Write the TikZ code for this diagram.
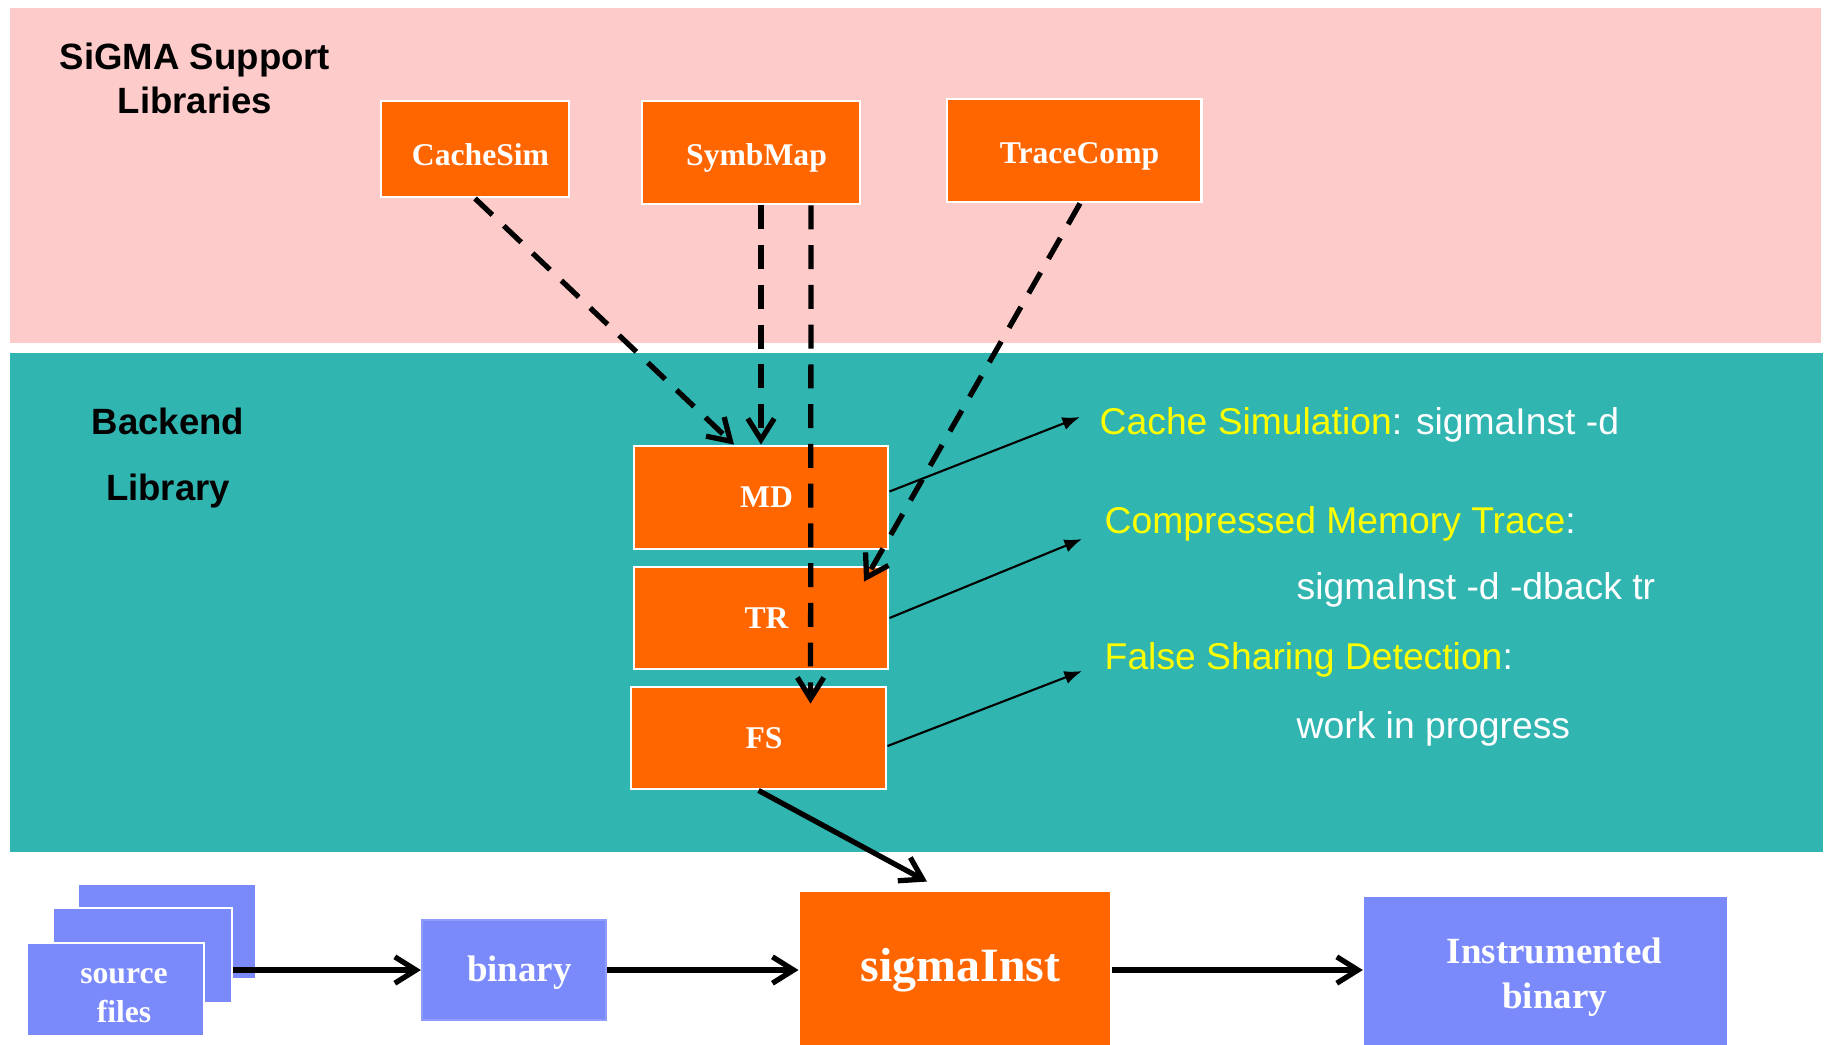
\documentclass[tikz,border=0pt]{standalone}
\usepackage{fontspec}
\setmainfont{Liberation Serif}
\setsansfont{Liberation Sans}
\usetikzlibrary{arrows.meta}
\newcommand{\boxtext}[1]{\hspace*{0.11cm}\rule{0pt}{9.4pt}#1}
\begin{document}
\begin{tikzpicture}[x=0.01cm, y=-0.01cm, >={Straight Barb[length=6pt,width=7.5pt]},
    obox/.style={draw=white, line width=0.8pt, fill=sorange, text=white, inner sep=0pt,
      font=\bfseries\fontsize{9}{11}\selectfont, align=center},
    bbox/.style={draw=white, line width=0.6pt, fill=sblue, text=white, inner sep=0pt,
      font=\bfseries\fontsize{10.5}{13}\selectfont, align=center},
    heading/.style={font=\sffamily\bfseries\fontsize{10.4}{12.5}\selectfont, align=center},
    note/.style={font=\sffamily\fontsize{10.6}{12}\selectfont, text=white, anchor=west, inner sep=0pt},
    dasharr/.style={->, line width=1.5pt, dash pattern=on 6.8pt off 4.5pt},
    thinarr/.style={-{Latex[length=5pt,width=3.8pt]}, line width=0.6pt},
    thickarr/.style={->, line width=1.5pt}]
  \definecolor{spink}{HTML}{FECBCB}
  \definecolor{steal}{HTML}{30B5B1}
  \definecolor{sorange}{HTML}{FF6600}
  \definecolor{sblue}{HTML}{7B8AFB}
  \definecolor{syellow}{HTML}{FFFF00}
  \clip (0,0) rectangle (1828,1044);
  \fill[white] (0,0) rectangle (1828,1044);
  \fill[spink] (10,8) rectangle (1821,343);
  \fill[steal] (10,353) rectangle (1823,852);

  \node[heading] (suplbl) at (195,78) {SiGMA Support\\Libraries};
  \node[heading, font=\sffamily\bfseries\fontsize{10.4}{19}\selectfont] (backlbl) at (168,458) {Backend\\Library};

  \node[obox, minimum width=1.88cm, minimum height=0.96cm] (cachesim) at (475,149) {\boxtext{CacheSim}};
  \node[obox, minimum width=2.18cm, minimum height=1.03cm] (symbmap) at (751,152.5) {\boxtext{SymbMap}};
  \node[obox, minimum width=2.54cm, minimum height=1.03cm] (tracecomp) at (1074,150.5) {\boxtext{TraceComp}};

  \node[obox, minimum width=2.54cm, minimum height=1.03cm] (md) at (761,497.5) {\hspace*{0.11cm}MD};
  \node[obox, minimum width=2.54cm, minimum height=1.02cm] (tr) at (761,618) {\hspace*{0.11cm}TR};
  \node[obox, minimum width=2.55cm, minimum height=1.02cm] (fs) at (758.5,738) {\hspace*{0.11cm}FS};

  \node[note] (csnote) at (1099,425) {\textcolor{syellow}{Cache Simulation}: sigmaInst -d};
  \node[note] (cmnote) at (1104,524) {\textcolor{syellow}{Compressed Memory Trace}:};
  \node[note] (cmcmd) at (1296,590) {sigmaInst -d -dback tr};
  \node[note] (fsnote) at (1104,660) {\textcolor{syellow}{False Sharing Detection}:};
  \node[note] (fscmd) at (1296,729) {work in progress};

  \node[bbox, draw=none, minimum width=1.76cm, minimum height=0.93cm] (srcback) at (167,931.5) {};
  \node[bbox, minimum width=1.79cm, minimum height=0.95cm] (srcmid) at (142.5,955.5) {};
  \node[bbox, minimum width=1.77cm, minimum height=0.93cm, font=\bfseries\fontsize{9}{11}\selectfont] (src) at (115.5,989.5) {\hspace*{0.17cm}\rule{0pt}{7.9pt}source\\\hspace*{0.17cm}files};
  \node[bbox, draw=sblue!85!white, minimum width=1.84cm, minimum height=1.0cm] (bin) at (514,970) {\hspace*{0.11cm}\rule{0pt}{9pt}binary};
  \node[obox, draw=none, minimum width=3.1cm, minimum height=1.56cm, font=\bfseries\fontsize{13.6}{16}\selectfont] (sigma) at (955,970) {\hspace*{0.11cm}sigmaInst};
  \node[bbox, draw=none, minimum width=3.63cm, minimum height=1.6cm] (instr) at (1545.5,977) {\hspace*{0.18cm}Instrumented\\\hspace*{0.18cm}binary};

  \draw[dasharr] (cachesim.south) -- ([xshift=-0.27cm]md.north);
  \draw[dasharr] (md.north |- symbmap.south) -- (md.north);
  \draw[dasharr] ([xshift=0.6cm]symbmap.south) -- ([xshift=0.52cm,yshift=-0.18cm]fs.north);
  \draw[dasharr] ([xshift=0.06cm]tracecomp.south) -- ([xshift=1.03cm,yshift=-0.16cm]tr.north);

  \draw[thinarr] ([yshift=0.06cm]md.east) -- ([xshift=-0.19cm,yshift=0.08cm]csnote.west);
  \draw[thinarr] (tr.east) -- ([xshift=-0.22cm,yshift=-0.15cm]cmnote.west);
  \draw[thinarr] ([yshift=-0.08cm]fs.east) -- ([xshift=-0.22cm,yshift=-0.11cm]fsnote.west);

  \draw[thickarr] (fs.south) -- ([xshift=-0.28cm,yshift=0.09cm]sigma.north);
  \draw[thickarr] (srcmid.east |- bin.west) -- (bin.west);
  \draw[thickarr] (bin.east) -- (bin.east -| sigma.west);
  \draw[thickarr] (sigma.east |- bin.east) -- (bin.east -| instr.west);
\end{tikzpicture}
\end{document}
